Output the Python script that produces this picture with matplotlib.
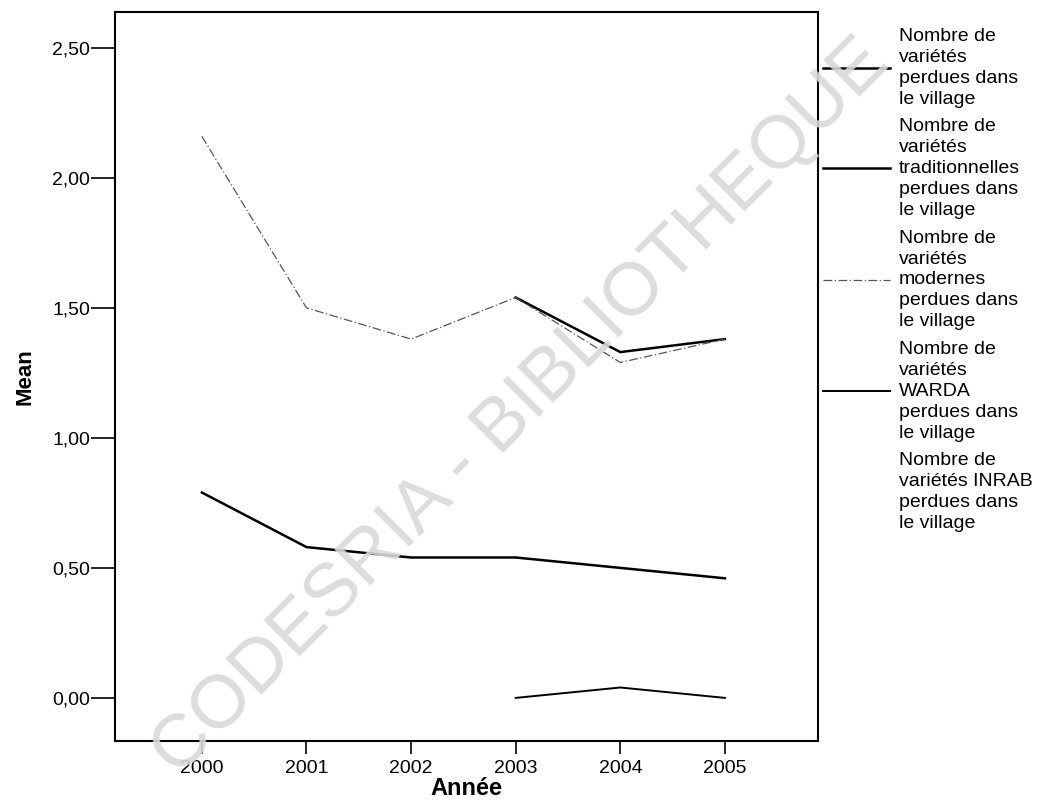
import numpy as np
import matplotlib
matplotlib.use("Agg")
import matplotlib.pyplot as plt
from matplotlib.ticker import FuncFormatter

# data
years = [2000, 2001, 2002, 2003, 2004, 2005]
total = [np.nan, np.nan, np.nan, 1.54, 1.33, 1.38]
traditionnelles = [0.79, 0.58, 0.54, 0.54, 0.50, 0.46]
modernes = [2.16, 1.50, 1.38, 1.54, 1.29, 1.38]
warda = [np.nan, np.nan, np.nan, 0.00, 0.04, 0.00]
inrab = [np.nan] * 6

labels = [
    "Nombre de\nvariétés\nperdues dans\nle village",
    "Nombre de\nvariétés\ntraditionnelles\nperdues dans\nle village",
    "Nombre de\nvariétés\nmodernes\nperdues dans\nle village",
    "Nombre de\nvariétés\nWARDA\nperdues dans\nle village",
    "Nombre de\nvariétés INRAB\nperdues dans\nle village",
]

plt.rcParams["font.family"] = ["Liberation Sans", "DejaVu Sans"]

fig = plt.figure(figsize=(10.62, 8), dpi=100)
ax = fig.add_axes([0.1083, 0.074, 0.6620, 0.911])

ax.plot(years, total, color="black", lw=1.8, label=labels[0])
ax.plot(years, traditionnelles, color="black", lw=1.8, label=labels[1])
ax.plot(years, modernes, color="#555555", lw=0.9, dashes=(7, 2, 1, 2), label=labels[2])
ax.plot(years, warda, color="black", lw=1.4, label=labels[3])
ax.plot(years, inrab, color="white", lw=0, label=labels[4])

ax.set_xlim(1999.17, 2005.89)
ax.set_ylim(-0.165, 2.638)
ax.set_xticks(years)
ax.set_yticks([0, 0.5, 1.0, 1.5, 2.0, 2.5])
ax.yaxis.set_major_formatter(FuncFormatter(lambda v, p: f"{v:.2f}".replace(".", ",")))
ax.tick_params(axis="y", length=17, width=1.2, labelsize=14, pad=1)
ax.tick_params(axis="x", length=9, width=1.2, labelsize=14, pad=5)
for s in ax.spines.values():
    s.set_linewidth(1.5)

ax.set_xlabel("Année", fontsize=17, fontweight="bold", labelpad=0)
ax.set_ylabel("Mean", fontsize=16, fontweight="bold", labelpad=12)

leg = ax.legend(loc="upper left", bbox_to_anchor=(0.775, 0.965),
                bbox_transform=fig.transFigure, frameon=False,
                fontsize=14, handlelength=3.45, handletextpad=0.45, labelspacing=0.55,
                borderaxespad=0, borderpad=0)
for t in leg.get_texts():
    t.set_linespacing(1.3)

# watermark
fig.text(0.49, 0.49, "CODESRIA - BIBLIOTHEQUE", fontsize=54, color="#d9d9d9",
         rotation=45, ha="center", va="center", alpha=0.9, zorder=10)

fig.savefig("out.png", dpi=100)
